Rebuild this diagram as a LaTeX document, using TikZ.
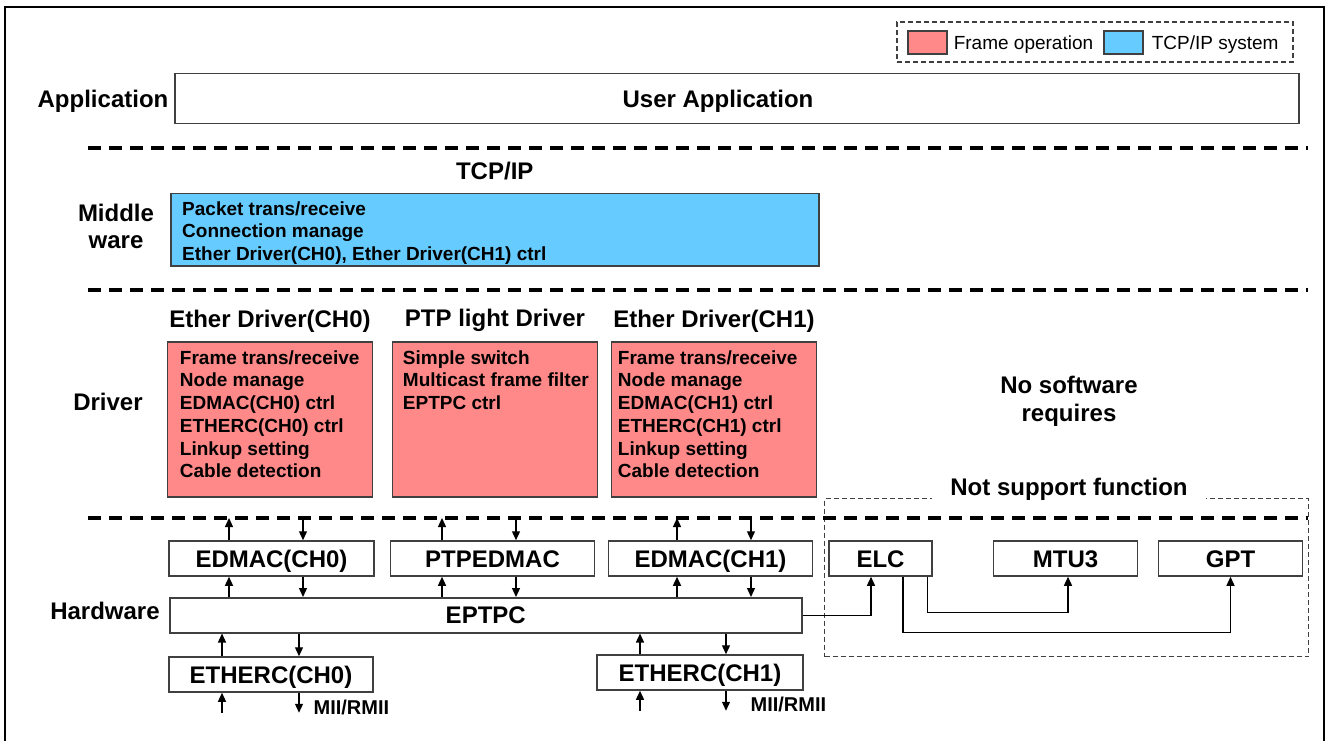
\documentclass[tikz,border=0pt]{standalone}
\usepackage{fontspec}
\setmainfont{Liberation Sans}
\usepackage{xcolor}
\definecolor{frame-red}{HTML}{FF8888}
\definecolor{tcpip-blue}{HTML}{66CCFF}
\definecolor{edge-gray}{HTML}{404040}
\usetikzlibrary{positioning}
\usetikzlibrary{arrows.meta}
\tikzset{layer/.style = {font=\fontsize{24}{28}\selectfont\bfseries, inner sep=0pt, anchor=base}}
\tikzset{title/.style = {font=\fontsize{24}{28}\selectfont\bfseries, inner sep=0pt}}
\tikzset{hw/.style = {draw=edge-gray, line width=1.5pt, fill=white, font=\fontsize{24}{28}\selectfont\bfseries, minimum height=35pt, text height=17pt, text depth=0pt, inner sep=0pt}}
\tikzset{func/.style = {draw=edge-gray, line width=1.5pt, fill=frame-red, minimum width=205pt, minimum height=155pt, inner sep=0pt}}
\tikzset{items/.style = {font=\fontsize{19}{22.7}\selectfont\bfseries, inner sep=0pt, anchor=base west}}
\tikzset{swatch/.style = {draw=edge-gray, line width=1.2pt, minimum width=39pt, minimum height=23pt, inner sep=0pt}}
\tikzset{key/.style = {font=\fontsize{19}{22}\selectfont, inner sep=0pt, text height=13.6pt, text depth=0pt}}
\tikzset{mii/.style = {font=\fontsize{20}{24}\selectfont\bfseries, inner sep=0pt, anchor=base west}}
\tikzset{sep/.style = {line width=4pt, dash pattern=on 13pt off 8pt}}
\tikzset{dotbox/.style = {draw=black!75, line width=1.3pt, dash pattern=on 5pt off 3pt}}
\tikzset{arr/.style = {line width=1.3pt, -{Triangle[length=9pt, width=8pt]}}}

\begin{document}
\begin{tikzpicture}[x=1pt, y=-1pt]

\useasboundingbox (0,0) rectangle (1326,741);
\draw[line width=2.5pt] (5,745) -- (5,7) -- (1324,7) -- (1324,745);

% legend
\node[dotbox, minimum width=396pt, minimum height=40pt] (legend) at (1095,42) {};
\node[swatch, fill=frame-red] (keyred) at (927.5,42.5) {};
\node[key, right=6pt of keyred] (keyredtxt) {Frame operation};
\node[swatch, fill=tcpip-blue, right=10pt of keyredtxt] (keyblue) {};
\node[key, right=8pt of keyblue] (keybluetxt) {TCP/IP system};

% layer separators
\coordinate (sep1) at (88,148);
\coordinate (sep2) at (88,290);
\coordinate (sep3) at (88,518);
\draw[sep] (sep1) -- ++(1220,0);
\draw[sep] (sep2) -- ++(1220,0);

% not supported part, drawn before the last separator
\node[dotbox, minimum width=484pt, minimum height=158pt, anchor=north west] (nsbox) at (824,498) {};
\node[title, fill=white, inner xsep=18pt, inner ysep=3pt, anchor=base] (nstitle) at (1069,495) {Not support function};
\draw[sep] (sep3) -- ++(1220,0);

% layer names
\node[layer] (lapp) at (103,108) {Application};
\node[layer, anchor=center, align=center, font=\fontsize{24}{27}\selectfont\bfseries] (lmid) at (116,226) {Middle\\ware};
\node[layer] (ldrv) at (108,410) {Driver};
\node[layer] (lhw) at (105,619) {Hardware};

% application
\node[hw, minimum width=1124pt, minimum height=50pt, anchor=north west] (app) at (174,73) {};
\node[title, anchor=base] (tapp) at (718,108) {User Application};

% middleware
\node[func, fill=tcpip-blue, minimum width=648pt, minimum height=72pt, anchor=north west] (tcp) at (170,193) {};
\node[title, above=13pt of tcp] (ttcp) {TCP/IP};
\node[items] (itcp) at ([xshift=12pt, yshift=-22pt]tcp.north west) {\parbox[t]{620pt}{Packet trans/receive\\
  Connection manage\\
  Ether Driver(CH0), Ether Driver(CH1) ctrl}};

% drivers
\node[func] (drv0) at (270,419.5) {};
\node[func, right=18.5pt of drv0] (drvptp) {};
\node[func, right=12.5pt of drvptp] (drv1) {};
\node[title, above=9pt of drv0] (tdrv0) {Ether Driver(CH0)};
\node[title, above=9pt of drvptp] (tdrvptp) {PTP light Driver};
\node[title, above=9pt of drv1] (tdrv1) {Ether Driver(CH1)};
\node[items] (idrv0) at ([xshift=13pt, yshift=-23pt]drv0.north west) {\parbox[t]{190pt}{Frame trans/receive\\
  Node manage\\
  EDMAC(CH0) ctrl\\
  ETHERC(CH0) ctrl\\
  Linkup setting\\
  Cable detection}};
\node[items] (idrvptp) at ([xshift=11pt, yshift=-23pt]drvptp.north west) {\parbox[t]{190pt}{Simple switch\\
  Multicast frame filter\\
  EPTPC ctrl}};
\node[items] (idrv1) at ([xshift=7pt, yshift=-23pt]drv1.north west) {\parbox[t]{195pt}{Frame trans/receive\\
  Node manage\\
  EDMAC(CH1) ctrl\\
  ETHERC(CH1) ctrl\\
  Linkup setting\\
  Cable detection}};

\node[title, anchor=center, align=center, font=\fontsize{24}{28}\selectfont\bfseries] (nosw) at (1069,401) {No software\\requires};

% hardware
\node[hw, minimum width=205pt] (edm0) at (271.5,558.5) {EDMAC(CH0)};
\node[hw, minimum width=204pt, right=15pt of edm0] (ptpdma) {PTPEDMAC};
\node[hw, minimum width=204pt, right=12.5pt of ptpdma] (edm1) {EDMAC(CH1)};
\node[hw, minimum width=103pt, right=15pt of edm1] (elc) {ELC};
\node[hw, minimum width=144pt, right=60pt of elc] (mtu) {MTU3};
\node[hw, minimum width=144pt, right=19.5pt of mtu] (gpt) {GPT};
\node[hw, minimum width=632pt, anchor=north west] (eptpc) at (169,597) {EPTPC};
\node[hw, minimum width=204pt] (ethc0) at (271,674.5) {ETHERC(CH0)};
\node[hw, minimum width=206pt] (ethc1) at (700,672.5) {ETHERC(CH1)};

\draw[arr]  ([xshift=-42.5pt]edm0.north) -- ([xshift=-42.5pt]edm0.north |- sep3);
\draw[arr]  ([xshift=31.5pt]edm0.north |- sep3) -- ([xshift=31.5pt]edm0.north);
\draw[arr]  ([xshift=-50.5pt]ptpdma.north) -- ([xshift=-50.5pt]ptpdma.north |- sep3);
\draw[arr]  ([xshift=23.5pt]ptpdma.north |- sep3) -- ([xshift=23.5pt]ptpdma.north);
\draw[arr]  ([xshift=-33.5pt]edm1.north) -- ([xshift=-33.5pt]edm1.north |- sep3);
\draw[arr]  ([xshift=40.5pt]edm1.north |- sep3) -- ([xshift=40.5pt]edm1.north);

\draw[arr]  ([xshift=-42.5pt]edm0.south |- eptpc.north) -- ([xshift=-42.5pt]edm0.south);
\draw[arr]  ([xshift=31.5pt]edm0.south) -- ([xshift=31.5pt]edm0.south |- eptpc.north);
\draw[arr]  ([xshift=-50.5pt]ptpdma.south |- eptpc.north) -- ([xshift=-50.5pt]ptpdma.south);
\draw[arr]  ([xshift=23.5pt]ptpdma.south) -- ([xshift=23.5pt]ptpdma.south |- eptpc.north);
\draw[arr]  ([xshift=-33.5pt]edm1.south |- eptpc.north) -- ([xshift=-33.5pt]edm1.south);
\draw[arr]  ([xshift=40.5pt]edm1.south) -- ([xshift=40.5pt]edm1.south |- eptpc.north);

\draw[arr]  ([xshift=-49pt]ethc0.north) -- ([xshift=-49pt]ethc0.north |- eptpc.south);
\draw[arr]  ([xshift=28pt]ethc0.north |- eptpc.south) -- ([xshift=28pt]ethc0.north);
\draw[arr]  ([xshift=-60pt]ethc1.north) -- ([xshift=-60pt]ethc1.north |- eptpc.south);
\draw[arr]  ([xshift=26pt]ethc1.north |- eptpc.south) -- ([xshift=26pt]ethc1.north);

\draw[arr]  ([xshift=-49pt, yshift=-20pt]ethc0.south) -- ([xshift=-49pt]ethc0.south);
\draw[arr]  ([xshift=28pt]ethc0.south) -- ++(0,20) node[mii, xshift=14pt, yshift=-2pt] (mii0) {MII/RMII};
\draw[arr]  ([xshift=-60pt, yshift=-20pt]ethc1.south) -- ([xshift=-60pt]ethc1.south);
\draw[arr]  ([xshift=26pt]ethc1.south) -- ++(0,20) node[mii, xshift=24pt, yshift=-1pt] (mii1) {MII/RMII};

\draw[arr]  (eptpc.east) -| ([xshift=-9.5pt]elc.south);
\draw[arr]  ([xshift=47pt]elc.south) -- ++(0,36) -| ([xshift=2.5pt]mtu.south);
\draw[arr]  ([xshift=22.5pt]elc.south) -- ++(0,56) -| (gpt.south);

\end{tikzpicture}
\end{document}
